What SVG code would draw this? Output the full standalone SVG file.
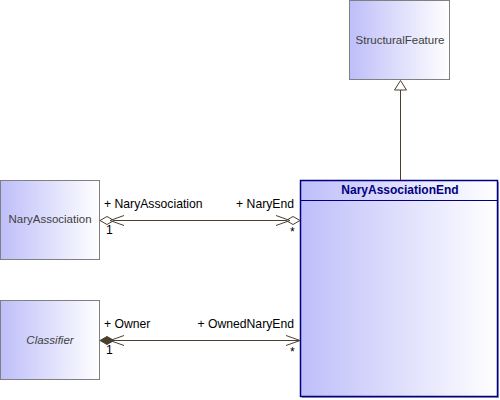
<svg xmlns="http://www.w3.org/2000/svg" width="500" height="400" viewBox="0 0 500 400">
<defs>
<linearGradient id="g" x1="0" y1="0" x2="1" y2="0">
<stop offset="0" stop-color="#bebefa"/>
<stop offset="1" stop-color="#ffffff"/>
</linearGradient>
</defs>
<style>
.box{fill:url(#g);stroke:#808080;stroke-width:1}
.name{font-family:"Liberation Sans",Arial,sans-serif;font-size:11.5px;fill:#404040;text-anchor:middle}
.lbl{font-family:"Liberation Sans",Arial,sans-serif;font-size:12.2px;fill:#000000}
.ln{stroke:#4b3f2f;stroke-width:1;fill:none}
</style>
<rect width="500" height="400" fill="#ffffff"/>
<g id="StructuralFeature">
<rect class="box" x="349.5" y="0.5" width="100" height="79"/>
<text class="name" x="400" y="44" font-size="12px">StructuralFeature</text>
</g>
<g id="NaryAssociation">
<rect class="box" x="0.5" y="180.5" width="99" height="79"/>
<text class="name" x="50" y="223">NaryAssociation</text>
</g>
<g id="Classifier">
<rect class="box" x="0.5" y="300.5" width="99" height="79"/>
<text class="name" x="50" y="344" font-style="italic">Classifier</text>
</g>
<g id="NaryAssociationEnd">
<rect x="302" y="182" width="197" height="216" fill="#a0a0c8"/>
<rect x="300.5" y="180.5" width="197" height="216" fill="url(#g)" stroke="#000080" stroke-width="1.5"/>
<line x1="300.5" y1="200.5" x2="497.5" y2="200.5" stroke="#000080" stroke-width="1"/>
<text x="400" y="194" font-family="'Liberation Sans',Arial,sans-serif" font-size="12px" font-weight="bold" fill="#000080" text-anchor="middle">NaryAssociationEnd</text>
</g>
<g id="connectors">
<line class="ln" x1="400.5" y1="90" x2="400.5" y2="180"/>
<polygon class="ln" points="400.5,80.5 394.5,90 406.5,90" fill="#ffffff"/>
<line class="ln" x1="114" y1="220.5" x2="286" y2="220.5"/>
<polygon class="ln" points="100,220.5 107,216.5 114,220.5 107,224.5" fill="#ffffff"/>
<polyline class="ln" points="124,215.5 110,220.5 124,225.5"/>
<polygon class="ln" points="300,220.5 293,216.5 286,220.5 293,224.5" fill="#ffffff"/>
<polyline class="ln" points="276,215.5 290,220.5 276,225.5"/>
<line class="ln" x1="114" y1="340.5" x2="300" y2="340.5"/>
<polygon points="100,340.5 107,336.5 114,340.5 107,344.5" fill="#4b3f2f" stroke="#4b3f2f"/>
<polyline class="ln" points="124,335.5 110,340.5 124,345.5"/>
<polyline class="ln" points="286,335.5 300,340.5 286,345.5"/>
<text class="lbl" x="104" y="208">+ NaryAssociation</text>
<text class="lbl" x="294" y="208" text-anchor="end">+ NaryEnd</text>
<text class="lbl" x="106" y="234">1</text>
<text class="lbl" x="290" y="236">*</text>
<text class="lbl" x="104" y="328">+ Owner</text>
<text class="lbl" x="294" y="328" text-anchor="end">+ OwnedNaryEnd</text>
<text class="lbl" x="106" y="354">1</text>
<text class="lbl" x="290" y="356">*</text>
</g>
</svg>
